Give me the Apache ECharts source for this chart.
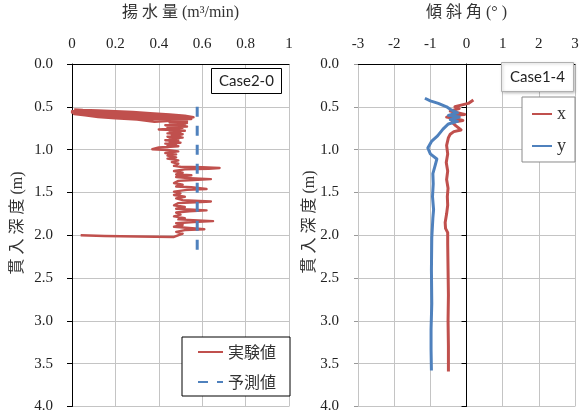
<!DOCTYPE html>
<html>
<head>
<meta charset="utf-8">
<script src="https://cdn.jsdelivr.net/npm/echarts@6/dist/echarts.min.js"></script>
<style>
html, body { margin: 0; padding: 0; background: #fff; }
#chart { width: 584px; height: 414px; }
</style>
</head>
<body>
<div id="chart"></div>
<script>
// Depth axis (shared by both panels)
const depthMin = 0, depthMax = 4, depthStep = 0.5;
// Pumping-rate axis (left panel)
const flowMin = 0, flowMax = 1, flowStep = 0.2;
// Inclination axis (right panel)
const tiltMin = -3, tiltMax = 3, tiltStep = 1;

// Left panel: measured pumping rate [m3/min, depth m]
const measuredRate = [
  [0.01,0.530],[0.05,0.538],[0.12,0.543],[0.20,0.550],[0.28,0.560],[0.36,0.575],[0.45,0.590],[0.52,0.605],[0.56,0.622],
  [0.46,0.615],[0.36,0.600],[0.26,0.585],[0.16,0.570],[0.08,0.560],[0.00,0.552],
  [0.03,0.562],[0.10,0.570],[0.18,0.580],[0.27,0.595],[0.37,0.610],[0.47,0.620],[0.54,0.628],
  [0.44,0.628],[0.33,0.618],[0.22,0.602],[0.12,0.585],[0.04,0.572],[0.00,0.568],
  [0.04,0.580],[0.12,0.595],[0.20,0.610],[0.30,0.625],[0.40,0.632],[0.50,0.636],[0.55,0.642],
  [0.44,0.645],[0.34,0.640],[0.24,0.628],[0.14,0.612],[0.05,0.595],[0.01,0.585],
  [0.06,0.600],[0.12,0.620],[0.20,0.635],[0.30,0.650],[0.38,0.675],[0.44,0.665],[0.50,0.655],[0.53,0.670],
  [0.45,0.685],[0.53,0.690],[0.46,0.700],[0.52,0.705],[0.43,0.715],[0.50,0.720],[0.53,0.730],[0.44,0.740],
  [0.51,0.745],[0.46,0.755],[0.40,0.765],[0.47,0.770],[0.52,0.780],[0.45,0.790],[0.50,0.800],[0.44,0.810],
  [0.51,0.820],[0.46,0.830],[0.50,0.840],[0.44,0.850],[0.51,0.860],[0.45,0.870],[0.49,0.880],[0.43,0.890],
  [0.49,0.900],[0.45,0.910],[0.50,0.920],[0.43,0.930],[0.48,0.940],[0.44,0.950],[0.49,0.960],[0.40,0.975],
  [0.37,0.995],[0.44,1.005],[0.49,1.020],[0.43,1.040],[0.48,1.055],[0.44,1.070],[0.48,1.090],[0.44,1.105],
  [0.49,1.125],[0.46,1.145],[0.49,1.165],
  [0.47,1.190],[0.50,1.200],[0.60,1.205],[0.68,1.215],[0.63,1.225],[0.52,1.230],[0.47,1.250],[0.51,1.270],
  [0.48,1.290],[0.55,1.300],[0.48,1.320],[0.52,1.330],[0.64,1.345],[0.56,1.355],[0.49,1.365],[0.47,1.390],
  [0.51,1.410],[0.48,1.430],[0.55,1.440],[0.62,1.460],[0.53,1.470],[0.47,1.490],[0.50,1.510],[0.47,1.530],
  [0.52,1.550],[0.48,1.570],[0.51,1.590],[0.64,1.605],[0.57,1.615],[0.49,1.625],[0.47,1.650],[0.52,1.670],
  [0.48,1.690],[0.62,1.710],[0.54,1.720],[0.48,1.735],[0.50,1.760],[0.47,1.780],[0.52,1.800],[0.49,1.815],
  [0.65,1.835],[0.56,1.845],[0.48,1.860],[0.51,1.880],[0.47,1.900],[0.54,1.915],[0.61,1.930],[0.52,1.940],
  [0.48,1.960],[0.51,1.980],[0.47,2.020],[0.30,2.015],[0.15,2.008],[0.04,2.000]
];
// Left panel: predicted pumping rate
const predictedRate = [[0.577,0.50],[0.577,2.22]];

// Right panel: inclination about x and y [deg, depth m]
const tiltX = [
  [0.19,0.42],[0.22,0.43],[0.05,0.46],[-0.15,0.48],[-0.32,0.50],[-0.20,0.52],[-0.45,0.55],[-0.25,0.57],
  [-0.05,0.59],[-0.35,0.60],[-0.55,0.62],[-0.30,0.64],[-0.10,0.66],[-0.40,0.68],[-0.45,0.70],[-0.30,0.72],
  [-0.15,0.77],[-0.35,0.79],[-0.45,0.82],[-0.50,0.86],[-0.55,0.95],[-0.52,1.05],[-0.56,1.15],[-0.52,1.25],
  [-0.55,1.35],[-0.51,1.45],[-0.53,1.55],[-0.52,1.65],[-0.55,1.75],[-0.59,1.85],[-0.58,1.92],[-0.52,1.97],
  [-0.52,2.10],[-0.51,2.40],[-0.50,2.70],[-0.51,3.00],[-0.50,3.30],[-0.50,3.59]
];
const tiltY = [
  [-1.15,0.40],[-1.00,0.43],[-0.78,0.46],[-0.55,0.50],[-0.41,0.54],[-0.25,0.57],[-0.50,0.60],[-0.20,0.62],
  [-0.45,0.65],[-0.25,0.67],[-0.50,0.70],[-0.65,0.76],[-0.80,0.84],[-0.96,0.90],[-1.07,0.98],[-1.00,1.05],
  [-0.82,1.11],[-0.87,1.19],[-0.93,1.28],[-0.92,1.40],[-0.94,1.55],[-0.91,1.70],[-0.93,1.80],[-0.96,2.03],
  [-0.97,2.40],[-0.96,2.80],[-0.98,3.10],[-0.98,3.33],[-0.97,3.58]
];

const RED = '#c0504d', BLUE = '#4f81bd', GRID = '#c4c4c4';
const SERIF = '"Liberation Serif", "Noto Sans CJK JP", serif';
const CJK = '"Noto Sans CJK JP", "Liberation Serif", sans-serif';
const SANS = 'Lato, "Liberation Sans", sans-serif';

function depthAxis(grid, extra) {
  return Object.assign({
    gridIndex: grid, type: 'value', inverse: true,
    min: depthMin, max: depthMax, interval: depthStep,
    axisLabel: { fontFamily: SERIF, fontSize: 15, color: '#222', margin: 19,
                 formatter: v => v.toFixed(1) },
    splitLine: { show: true, lineStyle: { color: GRID, width: 1 } }
  }, extra);
}

// legend keys show only the line sample, no marker
const hiddenMarker = { color: 'rgba(0,0,0,0)', borderWidth: 0, opacity: 0 };

const chart = echarts.init(document.getElementById('chart'), null, { renderer: 'canvas' });
chart.setOption({
  animation: false,
  grid: [
    { left: 72, top: 60, width: 217, height: 348 },
    { left: 358, top: 60, width: 217, height: 348 }
  ],
  xAxis: [
    {
      gridIndex: 0, type: 'value', position: 'top',
      min: flowMin, max: flowMax, interval: flowStep,
      name: '揚 水 量 (m³/min)', nameLocation: 'middle', nameGap: 43,
      nameTextStyle: { fontFamily: SERIF, fontSize: 16, color: '#333' },
      axisLine: { show: true, onZero: false, lineStyle: { color: '#000', width: 1 } },
      axisTick: { show: false },
      axisLabel: { fontFamily: SERIF, fontSize: 15, color: '#222', margin: 12 },
      splitLine: { show: true, lineStyle: { color: GRID, width: 1 } }
    },
    {
      gridIndex: 1, type: 'value', position: 'top',
      min: tiltMin, max: tiltMax, interval: tiltStep,
      name: '傾 斜 角 (° )', nameLocation: 'middle', nameGap: 43,
      nameTextStyle: { fontFamily: SERIF, fontSize: 16, color: '#333' },
      axisLine: { show: true, onZero: false, lineStyle: { color: '#000', width: 1 } },
      axisTick: { show: false },
      axisLabel: { fontFamily: SERIF, fontSize: 15, color: '#222', margin: 12 },
      splitLine: { show: true, lineStyle: { color: GRID, width: 1 } }
    }
  ],
  yAxis: [
    depthAxis(0, {
      axisLine: { show: true, onZero: false, lineStyle: { color: '#000', width: 1 } },
      axisTick: { show: true, length: 5, lineStyle: { color: '#000' } }
    }),
    depthAxis(1, {
      position: 'left',
      axisLine: { show: false, onZero: false },
      axisTick: { show: true, length: 4, lineStyle: { color: '#999' } }
    }),
    // zero line of the inclination panel with its depth ticks
    depthAxis(1, {
      position: 'left',
      axisLine: { show: true, onZero: true, lineStyle: { color: '#000', width: 1 } },
      axisTick: { show: true, length: 5, lineStyle: { color: '#000' } },
      axisLabel: { show: false },
      splitLine: { show: false }
    })
  ],
  title: [
    {
      text: 'Case2-0', left: 211, top: 68, padding: [4, 8],
      borderColor: '#000', borderWidth: 1, backgroundColor: '#fff',
      textStyle: { fontFamily: SANS, fontSize: 15, fontWeight: 'normal', color: '#222', lineHeight: 18 }
    },
    {
      text: 'Case1-4', left: 501, top: 62, padding: [6, 9],
      borderColor: '#b0b0b0', borderWidth: 1, backgroundColor: '#fff',
      shadowColor: 'rgba(0,0,0,0.25)', shadowBlur: 3, shadowOffsetX: 1, shadowOffsetY: 1,
      textStyle: { fontFamily: SANS, fontSize: 15, fontWeight: 'normal', color: '#222', lineHeight: 18 }
    }
  ],
  legend: [
    {
      data: ['実験値', '予測値'], orient: 'vertical', left: 182, top: 337,
      itemWidth: 25, itemHeight: 14, itemGap: 14, padding: [7, 14, 6, 15],
      borderColor: '#000', borderWidth: 1, backgroundColor: '#fff',
      itemStyle: hiddenMarker,
      textStyle: { fontFamily: CJK, fontSize: 16, color: '#333' }
    },
    {
      data: ['x', 'y'], orient: 'vertical', left: 522, top: 97,
      itemWidth: 20, itemHeight: 14, itemGap: 14, padding: [8, 9, 7, 9],
      borderColor: '#8a8a8a', borderWidth: 1, backgroundColor: '#fff',
      itemStyle: hiddenMarker,
      textStyle: { fontFamily: SERIF, fontSize: 18, color: '#333' }
    }
  ],
  graphic: [
    {
      type: 'text', x: 18, y: 223, rotation: Math.PI / 2,
      style: { text: '貫 入 深 度 (m)', align: 'center', verticalAlign: 'middle',
               font: '16px ' + SERIF, fill: '#333' }
    },
    {
      type: 'text', x: 310, y: 222, rotation: Math.PI / 2,
      style: { text: '貫 入 深 度 (m)', align: 'center', verticalAlign: 'middle',
               font: '16px ' + SERIF, fill: '#333' }
    }
  ],
  series: [
    {
      name: '実験値', type: 'line', xAxisIndex: 0, yAxisIndex: 0,
      data: measuredRate, symbol: 'none', color: RED,
      lineStyle: { color: RED, width: 2.4, join: 'round' }
    },
    {
      name: '予測値', type: 'line', xAxisIndex: 0, yAxisIndex: 0,
      data: predictedRate, symbol: 'none', color: BLUE,
      lineStyle: { color: BLUE, width: 3, type: [10, 9] }
    },
    {
      name: 'x', type: 'line', xAxisIndex: 1, yAxisIndex: 1,
      data: tiltX, symbol: 'none', color: RED,
      lineStyle: { color: RED, width: 3, join: 'round' }
    },
    {
      name: 'y', type: 'line', xAxisIndex: 1, yAxisIndex: 1,
      data: tiltY, symbol: 'none', color: BLUE,
      lineStyle: { color: BLUE, width: 3, join: 'round' }
    }
  ]
});
</script>
</body>
</html>
